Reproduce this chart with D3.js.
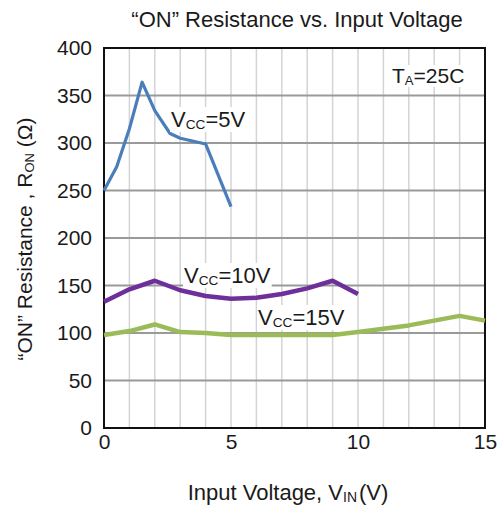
<!DOCTYPE html>
<html>
<head>
<meta charset="utf-8">
<script src="https://cdn.jsdelivr.net/npm/d3@7"></script>
<style>
  body { margin: 0; background: #fff; }
  text { font-family: "Liberation Sans", Arial, sans-serif; fill: #1a1a1a; }
</style>
</head>
<body>
<script>
// data
let vin5 = [0, 0.5, 1, 1.5, 2, 2.6, 3, 4, 5];
let ron5 = [250, 275, 315, 364, 334, 310, 305, 299, 233];

let vin10 = [0, 1, 2, 3, 4, 5, 6, 7, 8, 9, 10];
let ron10 = [133, 146, 155, 145, 139, 136, 137, 141, 147, 155, 141];

let vin15 = [0, 1, 2, 3, 4, 5, 7, 9, 10, 12, 14, 15];
let ron15 = [98, 102, 109, 101, 100, 98, 98, 98, 101, 108, 118, 113];

let xTicks = [0, 5, 10, 15];
let yTicks = [0, 50, 100, 150, 200, 250, 300, 350, 400];

let W = 497, H = 509;
let margin = { top: 48, right: 12, bottom: 81, left: 104 };

let svg = d3.select("body").append("svg")
    .attr("width", W)
    .attr("height", H);

let x = d3.scaleLinear().domain([0, 15]).range([margin.left, W - margin.right]);
let y = d3.scaleLinear().domain([0, 400]).range([H - margin.bottom, margin.top]);

// grid
svg.append("g")
    .selectAll("line")
    .data(d3.range(1, 15))
    .enter().append("line")
    .attr("x1", d => x(d)).attr("x2", d => x(d))
    .attr("y1", y(0)).attr("y2", y(400))
    .attr("stroke", "#d4d4d4").attr("stroke-width", 1.5);

svg.append("g")
    .selectAll("line")
    .data(yTicks.slice(1, -1))
    .enter().append("line")
    .attr("x1", x(0)).attr("x2", x(15))
    .attr("y1", d => y(d)).attr("y2", d => y(d))
    .attr("stroke", "#9a9a9a").attr("stroke-width", 2);

// axes (labels only)
let xAxis = svg.append("g")
    .attr("transform", "translate(0," + y(0) + ")")
    .call(d3.axisBottom(x).tickValues(xTicks).tickSize(0).tickPadding(6));
let yAxis = svg.append("g")
    .attr("transform", "translate(" + x(0) + ",0)")
    .call(d3.axisLeft(y).tickValues(yTicks).tickSize(0).tickPadding(12));
[xAxis, yAxis].forEach(a => {
    a.select(".domain").remove();
    a.selectAll("text").style("font-size", "21px").attr("fill", "#1a1a1a")
        .style("font-family", "'Liberation Sans', Arial, sans-serif");
});

// plot frame
svg.append("rect")
    .attr("x", x(0)).attr("y", y(400))
    .attr("width", x(15) - x(0)).attr("height", y(0) - y(400))
    .attr("fill", "none").attr("stroke", "#111").attr("stroke-width", 2);

let line = d3.line().x(d => x(d[0])).y(d => y(d[1]));

let series = [
    { xs: vin5, ys: ron5, color: "#4a7ebb", w: 3.2 },
    { xs: vin10, ys: ron10, color: "#6e2f9b", w: 4.5 },
    { xs: vin15, ys: ron15, color: "#9bbb59", w: 4.5 }
];
series.forEach(s => {
    svg.append("path")
        .datum(d3.zip(s.xs, s.ys))
        .attr("d", line)
        .attr("fill", "none")
        .attr("stroke", s.color)
        .attr("stroke-width", s.w)
        .attr("stroke-linejoin", "round");
});

// labels with white boxes
function label(px, py, main, sub, rest, size, padX, padY) {
    let t = svg.append("text")
        .attr("x", px).attr("y", py)
        .style("font-size", size + "px");
    t.append("tspan").text(main);
    t.append("tspan").text(sub).style("font-size", (size * 0.62) + "px").attr("dy", 2);
    t.append("tspan").text(rest).attr("dy", -2);
    let b = t.node().getBBox();
    svg.insert("rect", function () { return t.node(); })
        .attr("x", b.x - padX).attr("y", b.y + 1 - padY)
        .attr("width", b.width + 2 * padX).attr("height", b.height - 2 + 2 * padY)
        .attr("fill", "#fff");
}
label(171, 127, "V", "CC", "=5V", 22, 1, 1);
label(184, 283, "V", "CC", "=10V", 22, 1, 1);
label(258, 325, "V", "CC", "=15V", 22, 1, 1);
label(392, 83, "T", "A", "=25C", 21, 7, 0);

// title
svg.append("text")
    .attr("x", 297).attr("y", 27)
    .attr("text-anchor", "middle")
    .style("font-size", "22px")
    .text("\u201cON\u201d Resistance vs. Input Voltage");

// x axis label
let xl = svg.append("text")
    .attr("x", 288).attr("y", 500)
    .attr("text-anchor", "middle")
    .style("font-size", "22px");
xl.append("tspan").text("Input Voltage, V");
xl.append("tspan").text("IN").style("font-size", "14px").attr("dy", 2);
xl.append("tspan").text("(V)").attr("dy", -2).attr("dx", 2);

// y axis label
let yl = svg.append("text")
    .attr("transform", "translate(32," + 239 + ") rotate(-90)")
    .attr("text-anchor", "middle")
    .style("font-size", "21px");
yl.append("tspan").text("\u201cON\u201d Resistance , R");
yl.append("tspan").text("ON").style("font-size", "13px").attr("dy", 2);
yl.append("tspan").text(" (\u03a9)").attr("dy", -2);
</script>
</body>
</html>
